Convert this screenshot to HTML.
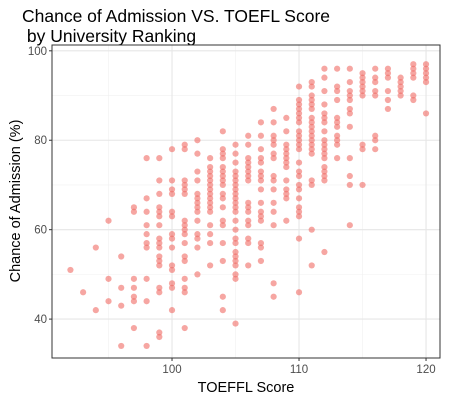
<!DOCTYPE html>
<html><head><meta charset="utf-8"><style>
body{margin:0;background:#fff;font-family:"Liberation Sans",sans-serif}
</style></head><body>
<svg width="450" height="402" xmlns="http://www.w3.org/2000/svg">
<text x="22" y="22" font-size="17.5" fill="#000">Chance of Admission VS. TOEFL Score</text>
<text x="22" y="42" font-size="17.5" fill="#000">&#160;by University Ranking</text>
<g id="grid"></g>
<g id="pts"></g>
<rect x="52" y="45" width="388" height="313" fill="none" stroke="#333" stroke-width="1"/>
<g id="axes"></g>
<text x="246" y="392" font-size="14.5" text-anchor="middle">TOEFFL Score</text>
<text transform="translate(20,201) rotate(-90)" font-size="14.5" text-anchor="middle">Chance of Admission (%)</text>
</svg>
<script>
const xTicks=[100,110,120];
const yTicks=[40,60,80,100];
const xMinor=[95,105,115];
const yMinor=[50,70,90];
const toeflScores=[92,93,94,95,96,97,98,99,100,101,102,103,104,105,106,107,108,109,110,111,112,113,114,115,116,117,118,119,120];
const chanceLists=[
[51],[46],[56,42],[62,49,44],[54,47,43,34],[65,64,49,47,45,44,38],
[76,67,64,61,59,57,56,49,44,34],
[76,71,68,65,64,63,61,58,57,56,54,53,52,47,46,37,36],
[78,71,69,68,64,63,59,58,56,52,51,48,47,42],
[79,78,71,70,69,68,62,61,60,59,57,54,53,49,47,46,38],
[80,77,73,71,68,67,66,65,64,62,59,58,56,50],
[76,74,73,72,71,70,69,68,67,66,65,64,61,59,57,52],
[82,78,77,76,74,73,72,71,70,68,67,65,62,61,57,53,45,42],
[79,77,75,73,72,71,70,69,68,67,66,65,64,62,60,58,57,55,54,53,52,50,49,39],
[81,79,76,75,74,73,72,71,66,65,64,62,61,58,57,52],
[84,81,78,76,75,73,72,71,69,66,64,63,62,57,56,53],
[87,84,81,80,79,77,76,72,71,69,66,64,61,48,45],
[85,82,79,78,77,76,75,74,71,69,68,67,62],
[92,89,88,87,86,85,84,82,81,80,79,78,75,73,72,70,69,67,65,64,63,58,46],
[93,92,90,89,88,87,85,84,83,82,81,80,79,78,77,71,70,60,52],
[96,94,91,88,86,85,84,82,80,79,78,77,76,74,73,72,71,55],
[96,92,91,89,85,84,83,81,80,79,76],
[96,93,91,90,89,87,86,83,76,72,70,61],
[95,94,93,92,91,90,79,78,70],
[96,94,93,91,90,81,80,78],
[96,95,94,91,89,87],
[94,93,92,91,90],
[97,96,95,94,90,89],
[97,96,95,94,93,86]
];
const X0=52,X1=440,Y0=358,Y1=45,xMin=90.55,xMax=121.1,yMin=31.3,yMax=101.3;
const sx=v=>X0+(v-xMin)/(xMax-xMin)*(X1-X0);
const sy=v=>Y0-(v-yMin)/(yMax-yMin)*(Y0-Y1);
const NS="http://www.w3.org/2000/svg";
const grid=document.getElementById('grid'),pts=document.getElementById('pts'),axes=document.getElementById('axes');
function line(x1,y1,x2,y2,c,w,p){const l=document.createElementNS(NS,'line');l.setAttribute('x1',x1);l.setAttribute('y1',y1);l.setAttribute('x2',x2);l.setAttribute('y2',y2);l.setAttribute('stroke',c);l.setAttribute('stroke-width',w);p.appendChild(l);return l;}
xMinor.forEach(v=>{const l=line(sx(v),Y1,sx(v),Y0,'#f0f0f0',0.6,grid);

});
yMinor.forEach(v=>{const l=line(X0,sy(v),X1,sy(v),'#f0f0f0',0.6,grid);

});
xTicks.forEach(v=>{const l=line(sx(v),Y1,sx(v),Y0,'#e6e6e6',1.1,grid);


const t=line(sx(v),Y0,sx(v),Y0+3,'#333',1,axes);


const tx=document.createElementNS(NS,'text');tx.setAttribute('x',sx(v));tx.setAttribute('y',Y0+15);tx.setAttribute('font-size','11.5');tx.setAttribute('fill','#4d4d4d');tx.setAttribute('text-anchor','middle');tx.textContent=v;


axes.appendChild(tx);});
yTicks.forEach(v=>{const l=line(X0,sy(v),X1,sy(v),'#e6e6e6',1.1,grid);


const t=line(X0-3,sy(v),X0,sy(v),'#333',1,axes);


const tx=document.createElementNS(NS,'text');tx.setAttribute('x',X0-5);tx.setAttribute('y',sy(v)+4);tx.setAttribute('font-size','11.5');tx.setAttribute('fill','#4d4d4d');tx.setAttribute('text-anchor','end');tx.textContent=v;


axes.appendChild(tx);});
toeflScores.forEach((s,i)=>{chanceLists[i].forEach(c=>{
const p=document.createElementNS(NS,'circle');p.setAttribute('cx',sx(s));p.setAttribute('cy',sy(c));p.setAttribute('r',3.1);p.setAttribute('fill','#F06A64');p.setAttribute('fill-opacity','0.6');


pts.appendChild(p);});});
</script>
</body></html>
